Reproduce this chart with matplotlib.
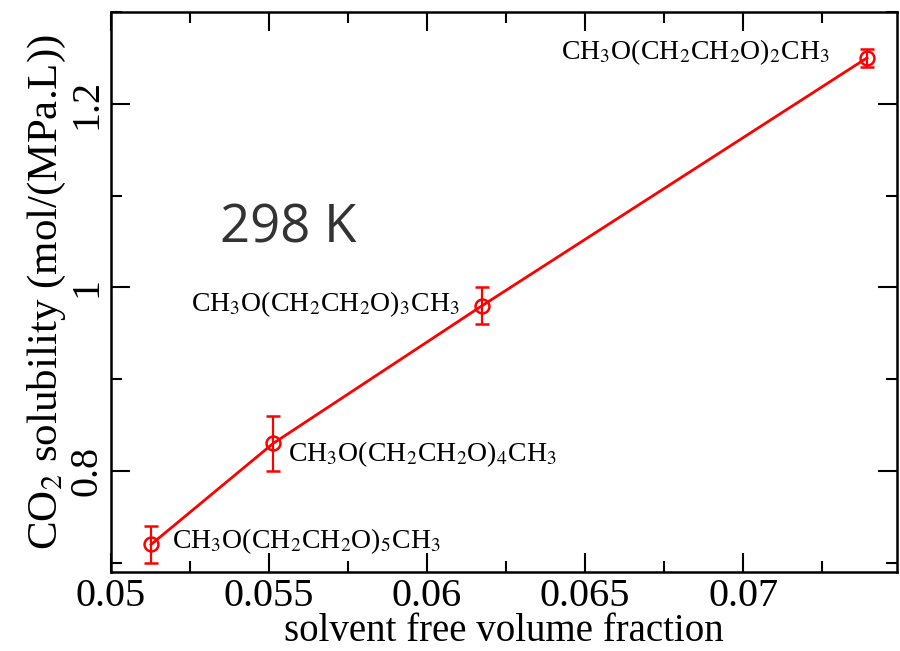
import matplotlib
matplotlib.use("Agg")
import matplotlib.pyplot as plt
from matplotlib.ticker import MultipleLocator, FuncFormatter

plt.rcParams['font.family'] = ['Liberation Serif', 'DejaVu Serif']
plt.rcParams['mathtext.fontset'] = 'stix'

# data
free_volume = [0.05127, 0.05513, 0.06174, 0.07392]
solubility = [0.720, 0.830, 0.980, 1.250]
sol_err = [0.020, 0.030, 0.020, 0.010]
labels = [r'CH$_3$O(CH$_2$CH$_2$O)$_5$CH$_3$',
          r'CH$_3$O(CH$_2$CH$_2$O)$_4$CH$_3$',
          r'CH$_3$O(CH$_2$CH$_2$O)$_3$CH$_3$',
          r'CH$_3$O(CH$_2$CH$_2$O)$_2$CH$_3$']
label_pos = [(0.05193, 0.724, 'left'), (0.0556, 0.8185, 'left'),
             (0.06104, 0.982, 'right'), (0.07275, 1.256, 'right')]
xticks = [0.05, 0.055, 0.06, 0.065, 0.07]
yticks = [0.8, 1.0, 1.2]

fig = plt.figure(figsize=(9, 6.51), dpi=100)
ax = fig.add_axes([0.1233, 0.1214, 0.9967 - 0.1233, 0.9816 - 0.1214])

ax.plot(free_volume, solubility, color='#ff0000', lw=2)
ax.errorbar(free_volume, solubility, yerr=sol_err, fmt='o', ms=10, mfc='none',
            mec='#ff0000', mew=1.8, ecolor='#ff0000', elinewidth=1.6,
            capsize=5, capthick=1.6)

for lab, (x, y, ha) in zip(labels, label_pos):
    ax.text(x, y, lab, fontsize=20, ha=ha, va='center', color='black')

ax.text(0.05345, 1.0638, '298 K', fontsize=38, family=['Open Sans', 'DejaVu Sans'],
        color='#333333', ha='left', va='center')

ax.set_xlim(0.05, 0.07487)
ax.set_ylim(0.69, 1.30)
ax.set_xticks(xticks)
ax.set_yticks(yticks)
ax.xaxis.set_minor_locator(MultipleLocator(0.0025))
ax.yaxis.set_minor_locator(MultipleLocator(0.1))
ax.xaxis.set_major_formatter(FuncFormatter(lambda v, p: '%g' % v))
ax.yaxis.set_major_formatter(FuncFormatter(lambda v, p: '%g' % v))

ax.tick_params(which='both', direction='in', top=True, right=True, width=1.5)
ax.tick_params(which='major', length=14, labelsize=29, pad=4)
ax.tick_params(which='minor', length=8)
for lbl in ax.get_yticklabels():
    lbl.set_rotation(90)
    lbl.set_va('center')
for s in ax.spines.values():
    s.set_linewidth(1.8)

ax.set_xlabel('solvent free volume fraction', fontsize=28, labelpad=-1)
ax.set_ylabel(r'CO$_2$ solubility (mol/(MPa.L))', fontsize=31, labelpad=0)

fig.savefig('out.png', dpi=100)
